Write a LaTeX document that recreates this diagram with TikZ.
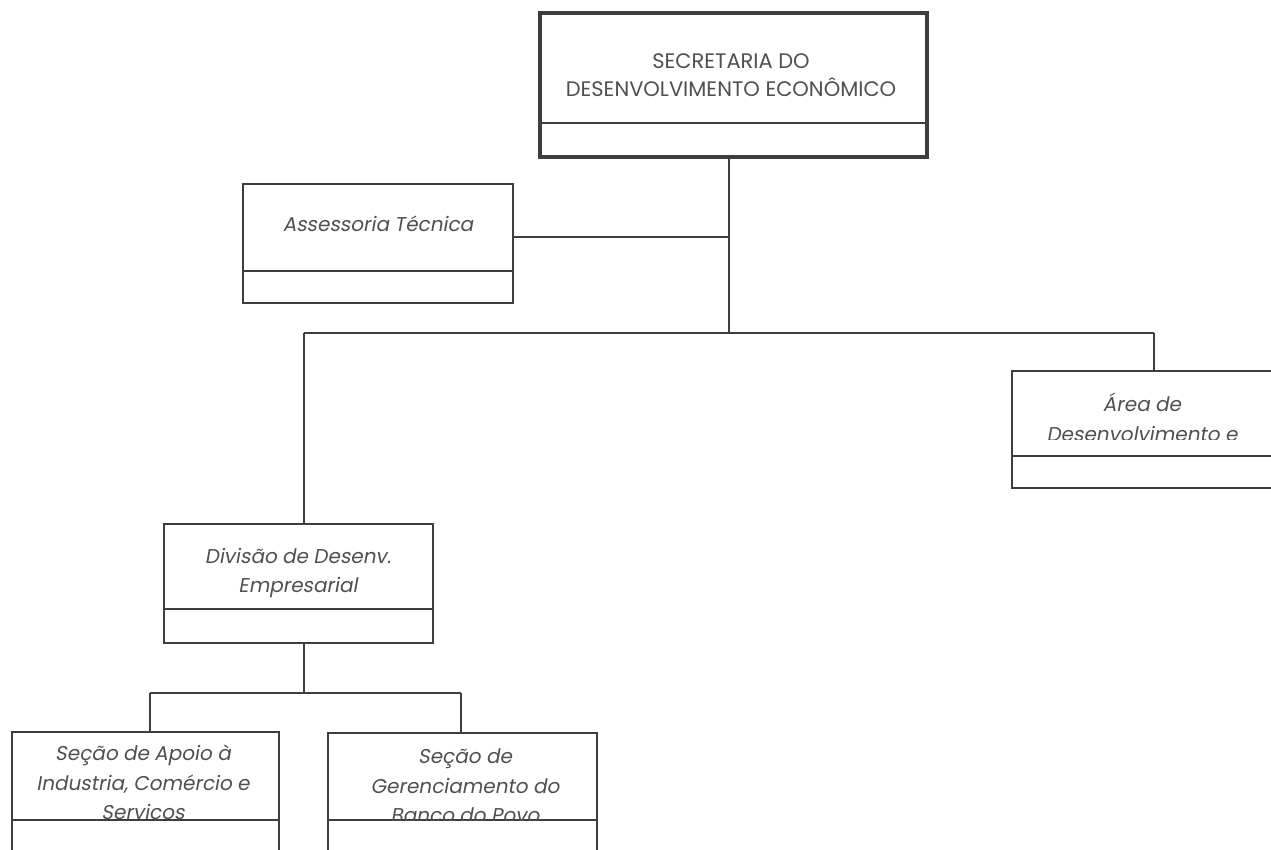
\documentclass[tikz,border=0pt]{standalone}
\usepackage{fontspec}
\setmainfont{Poppins}[ItalicFont={Poppins}, ItalicFeatures={FakeSlant=0.18}]
\definecolor{ln}{HTML}{3E3E3E}
\definecolor{tx}{HTML}{505050}
\tikzset{
  orgbox/.style={draw=ln, line width=2pt, rectangle, inner sep=0pt},
  headbox/.style={orgbox, line width=4.5pt},
  divline/.style={draw=ln, line width=2pt},
  conn/.style={draw=ln, line width=1.6pt},
  lbl/.style={text=tx, align=center, inner sep=0pt, font=\fontsize{21}{28.5}\selectfont},
  ilbl/.style={lbl, font=\fontsize{20}{29.5}\selectfont\itshape},
}
\begin{document}
\begin{tikzpicture}[x=1pt,y=-1pt]
\useasboundingbox (0,0) rectangle (1271,850);
\fill[white] (0,0) rectangle (1271,850);

% boxes
\node[headbox, minimum width=387pt, minimum height=144pt] (sec) at (733.5,85) {};
\draw[divline] (sec.west |- 0,123) -- (sec.east |- 0,123);
\node[orgbox, minimum width=270pt, minimum height=119pt] (ass) at (378,243.5) {};
\draw[divline] (ass.west |- 0,271) -- (ass.east |- 0,271);
\node[orgbox, minimum width=288pt, minimum height=117pt] (area) at (1156,429.5) {};
\draw[divline] (area.west |- 0,456) -- (area.east |- 0,456);
\node[orgbox, minimum width=269pt, minimum height=119pt] (div) at (298.5,583.5) {};
\draw[divline] (div.west |- 0,609) -- (div.east |- 0,609);
\node[orgbox, minimum width=267pt, minimum height=138pt] (sa) at (145.5,801) {};
\draw[divline] (sa.west |- 0,820) -- (sa.east |- 0,820);
\node[orgbox, minimum width=269pt, minimum height=137pt] (sb) at (462.5,801.5) {};
\draw[divline] (sb.west |- 0,820) -- (sb.east |- 0,820);

% texts
\node[lbl] (sect) at (731,75) {SECRETARIA DO\\DESENVOLVIMENTO ECONÔMICO};
\node[ilbl] (asst) at (378,224) {Assessoria Técnica};
\begin{scope}
  \clip (1012,371) rectangle (1271,439);
  \node[ilbl] (areat) at (1142,417.5) {Área de\\Desenvolvimento e};
\end{scope}
\node[ilbl] (divt) at (298,573) {Divisão de Desenv.\\Empresarial};
\begin{scope}
  \clip (12,732) rectangle (279,820);
  \node[ilbl] (sat) at (143,785) {Seção de Apoio à\\Industria, Comércio e\\Serviços};
\end{scope}
\begin{scope}
  \clip (328,733) rectangle (597,820);
  \node[ilbl] (sbt) at (465,786) {Seção de\\Gerenciamento do\\Banco do Povo};
\end{scope}

% connectors
\coordinate (j1) at (729,237);
\coordinate (bus) at (729,333);
\coordinate (bl) at (304,333);
\coordinate (br) at (1154,333);
\coordinate (sj) at (304,693);
\coordinate (sl) at (150,693);
\coordinate (sr) at (461,693);
\draw[conn] (sec.south -| bus) -- (bus);
\draw[conn] (ass.east |- j1) -- (j1);
\draw[conn] (bl) -- (br);
\draw[conn] (bl) -- (bl |- div.north);
\draw[conn] (br) -- (br |- area.north);
\draw[conn] (div.south -| sj) -- (sj);
\draw[conn] (sl) -- (sr);
\draw[conn] (sl) -- (sl |- sa.north);
\draw[conn] (sr) -- (sr |- sb.north);
\end{tikzpicture}
\end{document}
